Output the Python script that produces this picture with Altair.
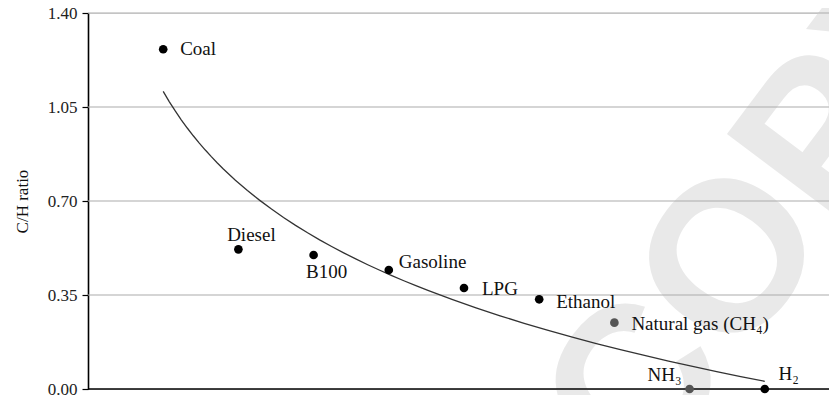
import altair as alt
import pandas as pd

# ---- data ----
fuels = ["Coal", "Diesel", "B100", "Gasoline", "LPG", "Ethanol",
         "Natural gas (CH\u2084)", "NH\u2083", "H\u2082"]
positions = [1, 2, 3, 4, 5, 6, 7, 8, 9]
ch_ratio = [1.265, 0.520, 0.499, 0.443, 0.376, 0.334, 0.247, 0.0, 0.0]
grey_fuels = ["Natural gas (CH\u2084)", "NH\u2083"]
y_ticks = [0.0, 0.35, 0.70, 1.05, 1.40]
grid_values = [0.35, 0.70, 1.05, 1.40]
y_title = "C/H ratio"
watermark_text = ["COPY"]

# label placement (align, dx, dy) -- styling only
label_place = {
    "Coal": ("left", 17, 0),
    "Diesel": ("center", 13, -14),
    "B100": ("center", 13, 17),
    "Gasoline": ("left", 10, -8),
    "LPG": ("left", 18, 1),
    "Ethanol": ("left", 17, 3),
    "Natural gas (CH\u2084)": ("left", 17, 1),
    "NH\u2083": ("center", -25, -14),
    "H\u2082": ("center", 24, -15),
}

df = pd.DataFrame({"fuel": fuels, "x": positions, "y": ch_ratio})
df["grey"] = df["fuel"].isin(grey_fuels)

X_MAX = 9.854
xs = alt.Scale(domain=[0, X_MAX], nice=False, zero=False)
ys = alt.Scale(domain=[0, 1.40], nice=False, zero=True)

SERIF = "Liberation Serif"

base = alt.Chart(df)

watermark = alt.Chart(pd.DataFrame({"t": watermark_text, "x": [9.12], "y": [0.67]})).mark_text(
    font="Liberation Sans", fontWeight="bold", fontSize=213, color="#e9e9e9",
    angle=307, align="center", baseline="middle"
).encode(x=alt.X("x:Q", scale=xs, axis=None), y=alt.Y("y:Q", scale=ys), text="t:N")

grid = alt.Chart(pd.DataFrame({"g": grid_values})).mark_rule(
    color="#ababab", strokeWidth=1.2
).encode(y=alt.Y("g:Q", scale=ys))

xaxis_line = alt.Chart(pd.DataFrame({"g": [0.0]})).mark_rule(
    color="#000000", strokeWidth=1.6
).encode(y=alt.Y("g:Q", scale=ys))

curve = base.transform_regression(
    "x", "y", method="log", extent=[1, 9]
).mark_line(color="#333333", strokeWidth=1.3).encode(
    x=alt.X("x:Q", scale=xs, axis=None),
    y=alt.Y("y:Q", scale=ys),
)

points = base.mark_point(filled=True, size=75, opacity=1).encode(
    x=alt.X("x:Q", scale=xs, axis=None),
    y=alt.Y("y:Q", scale=ys,
            axis=alt.Axis(title=y_title, values=y_ticks, format=".2f", grid=False,
                          domainColor="#000000", domainWidth=1.6,
                          tickColor="#000000", tickSize=6, tickWidth=1.2,
                          labelPadding=5, labelFont=SERIF, labelFontSize=17,
                          labelColor="#222222", titleFont=SERIF, titleFontSize=17,
                          titleFontWeight="normal", titleColor="#111111",
                          titlePadding=16)),
    color=alt.condition("datum.grey", alt.value("#555555"), alt.value("#000000")),
)

label_layers = []
for name, (align, dx, dy) in label_place.items():
    label_layers.append(
        base.transform_filter(alt.datum.fuel == name).mark_text(
            font=SERIF, fontSize=19, color="#111111", align=align,
            baseline="middle", dx=dx, dy=dy
        ).encode(
            x=alt.X("x:Q", scale=xs, axis=None),
            y=alt.Y("y:Q", scale=ys),
            text="fuel:N",
        )
    )

chart = alt.layer(watermark, grid, xaxis_line, curve, points, *label_layers).properties(
    width=741, height=376,
    autosize=alt.AutoSizeParams(type="none"),
    padding={"left": 80, "top": 5, "right": 0, "bottom": 6},
).configure_view(stroke=None).configure(background="#ffffff")

chart.save("out.html", embed_options={"renderer": "svg", "actions": False})
